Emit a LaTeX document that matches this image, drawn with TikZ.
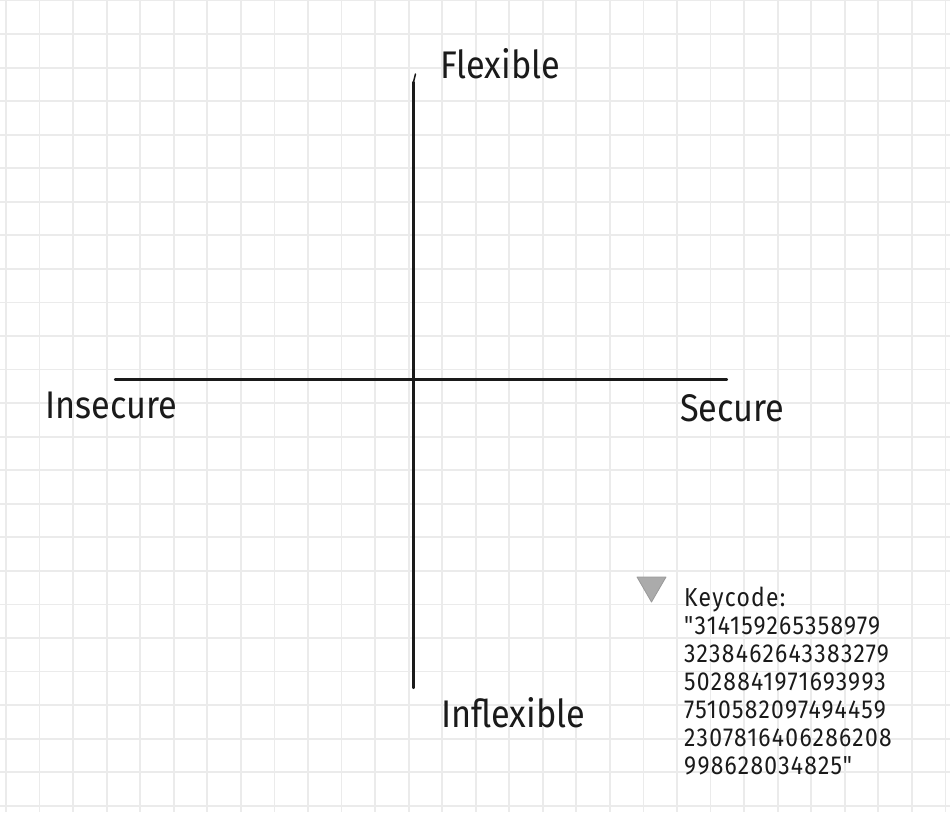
\documentclass[tikz,border=0pt]{standalone}
\usepackage{fontspec}
\setmainfont{Fira Sans}[FakeStretch=0.89]
\newfontfamily\keyfont{Fira Sans}[FakeStretch=0.88,LetterSpace=5]
\definecolor{gridc}{HTML}{EBEBEB}
\definecolor{inkc}{HTML}{1A1A1A}
\tikzset{
  axislabel/.style={font=\fontsize{38.5}{42}\selectfont, text=inkc, inner sep=0pt},
  axisline/.style={draw=inkc, line width=2.1pt, line cap=round},
  axisthick/.style={draw=inkc, line width=2.7pt, line cap=round},
  marker/.style={fill=black!33, draw=black!40, line width=0.8pt, line join=round},
}
\begin{document}
\begin{tikzpicture}[x=1pt,y=-1pt]
\useasboundingbox (0,0) rectangle (950,812);
\fill[white] (0,0) rectangle (950,812);
% grid
\foreach \i in {0,...,28} {
  \draw[gridc, line width=1.8pt] ({6+33.55*\i},0) -- ({6+33.55*\i},812);
}
\foreach \j in {0,...,24} {
  \draw[gridc, line width=1.8pt] (0,{0.5+33.55*\j}) -- (950,{0.5+33.55*\j});
}
% axes
\coordinate (left) at (115,379.5);
\coordinate (right) at (727,379.5);
\coordinate (top) at (413.5,82);
\coordinate (bottom) at (413.5,688);
\draw[axisline] (left) -- (right);
\draw[axisline] (top) -- (bottom);
\draw[axisline, line width=1.5pt] (top) .. controls (413.6,78) .. (415.5,74);
\foreach \a/\b in {122/140,188/207,288/308,372/388,430/443,488/510,543/607,620/677,690/702} {
  \draw[axisthick] (\a,379.5) -- (\b,379.5);
}
% labels
\node[axislabel, anchor=base west] (flex) at (440,78) {Flexible};
\node[axislabel, anchor=base west] (insec) at (45,418) {Insecure};
\node[axislabel, anchor=base west] (sec) at (680,421) {Secure};
\node[axislabel, anchor=base west] (inflex) at (441,727) {Inflexible};
% marker triangle
\draw[marker] (637,577) -- (666,577) -- (651.5,602) -- cycle;
\node[anchor=north west, inner sep=0pt, align=left, text=inkc,
      font=\keyfont\fontsize{26}{28}\selectfont] (key) at (684,587)
  {Keycode:\\"314159265358979\\3238462643383279\\5028841971693993\\7510582097494459\\2307816406286208\\998628034825"};
\end{tikzpicture}
\end{document}
